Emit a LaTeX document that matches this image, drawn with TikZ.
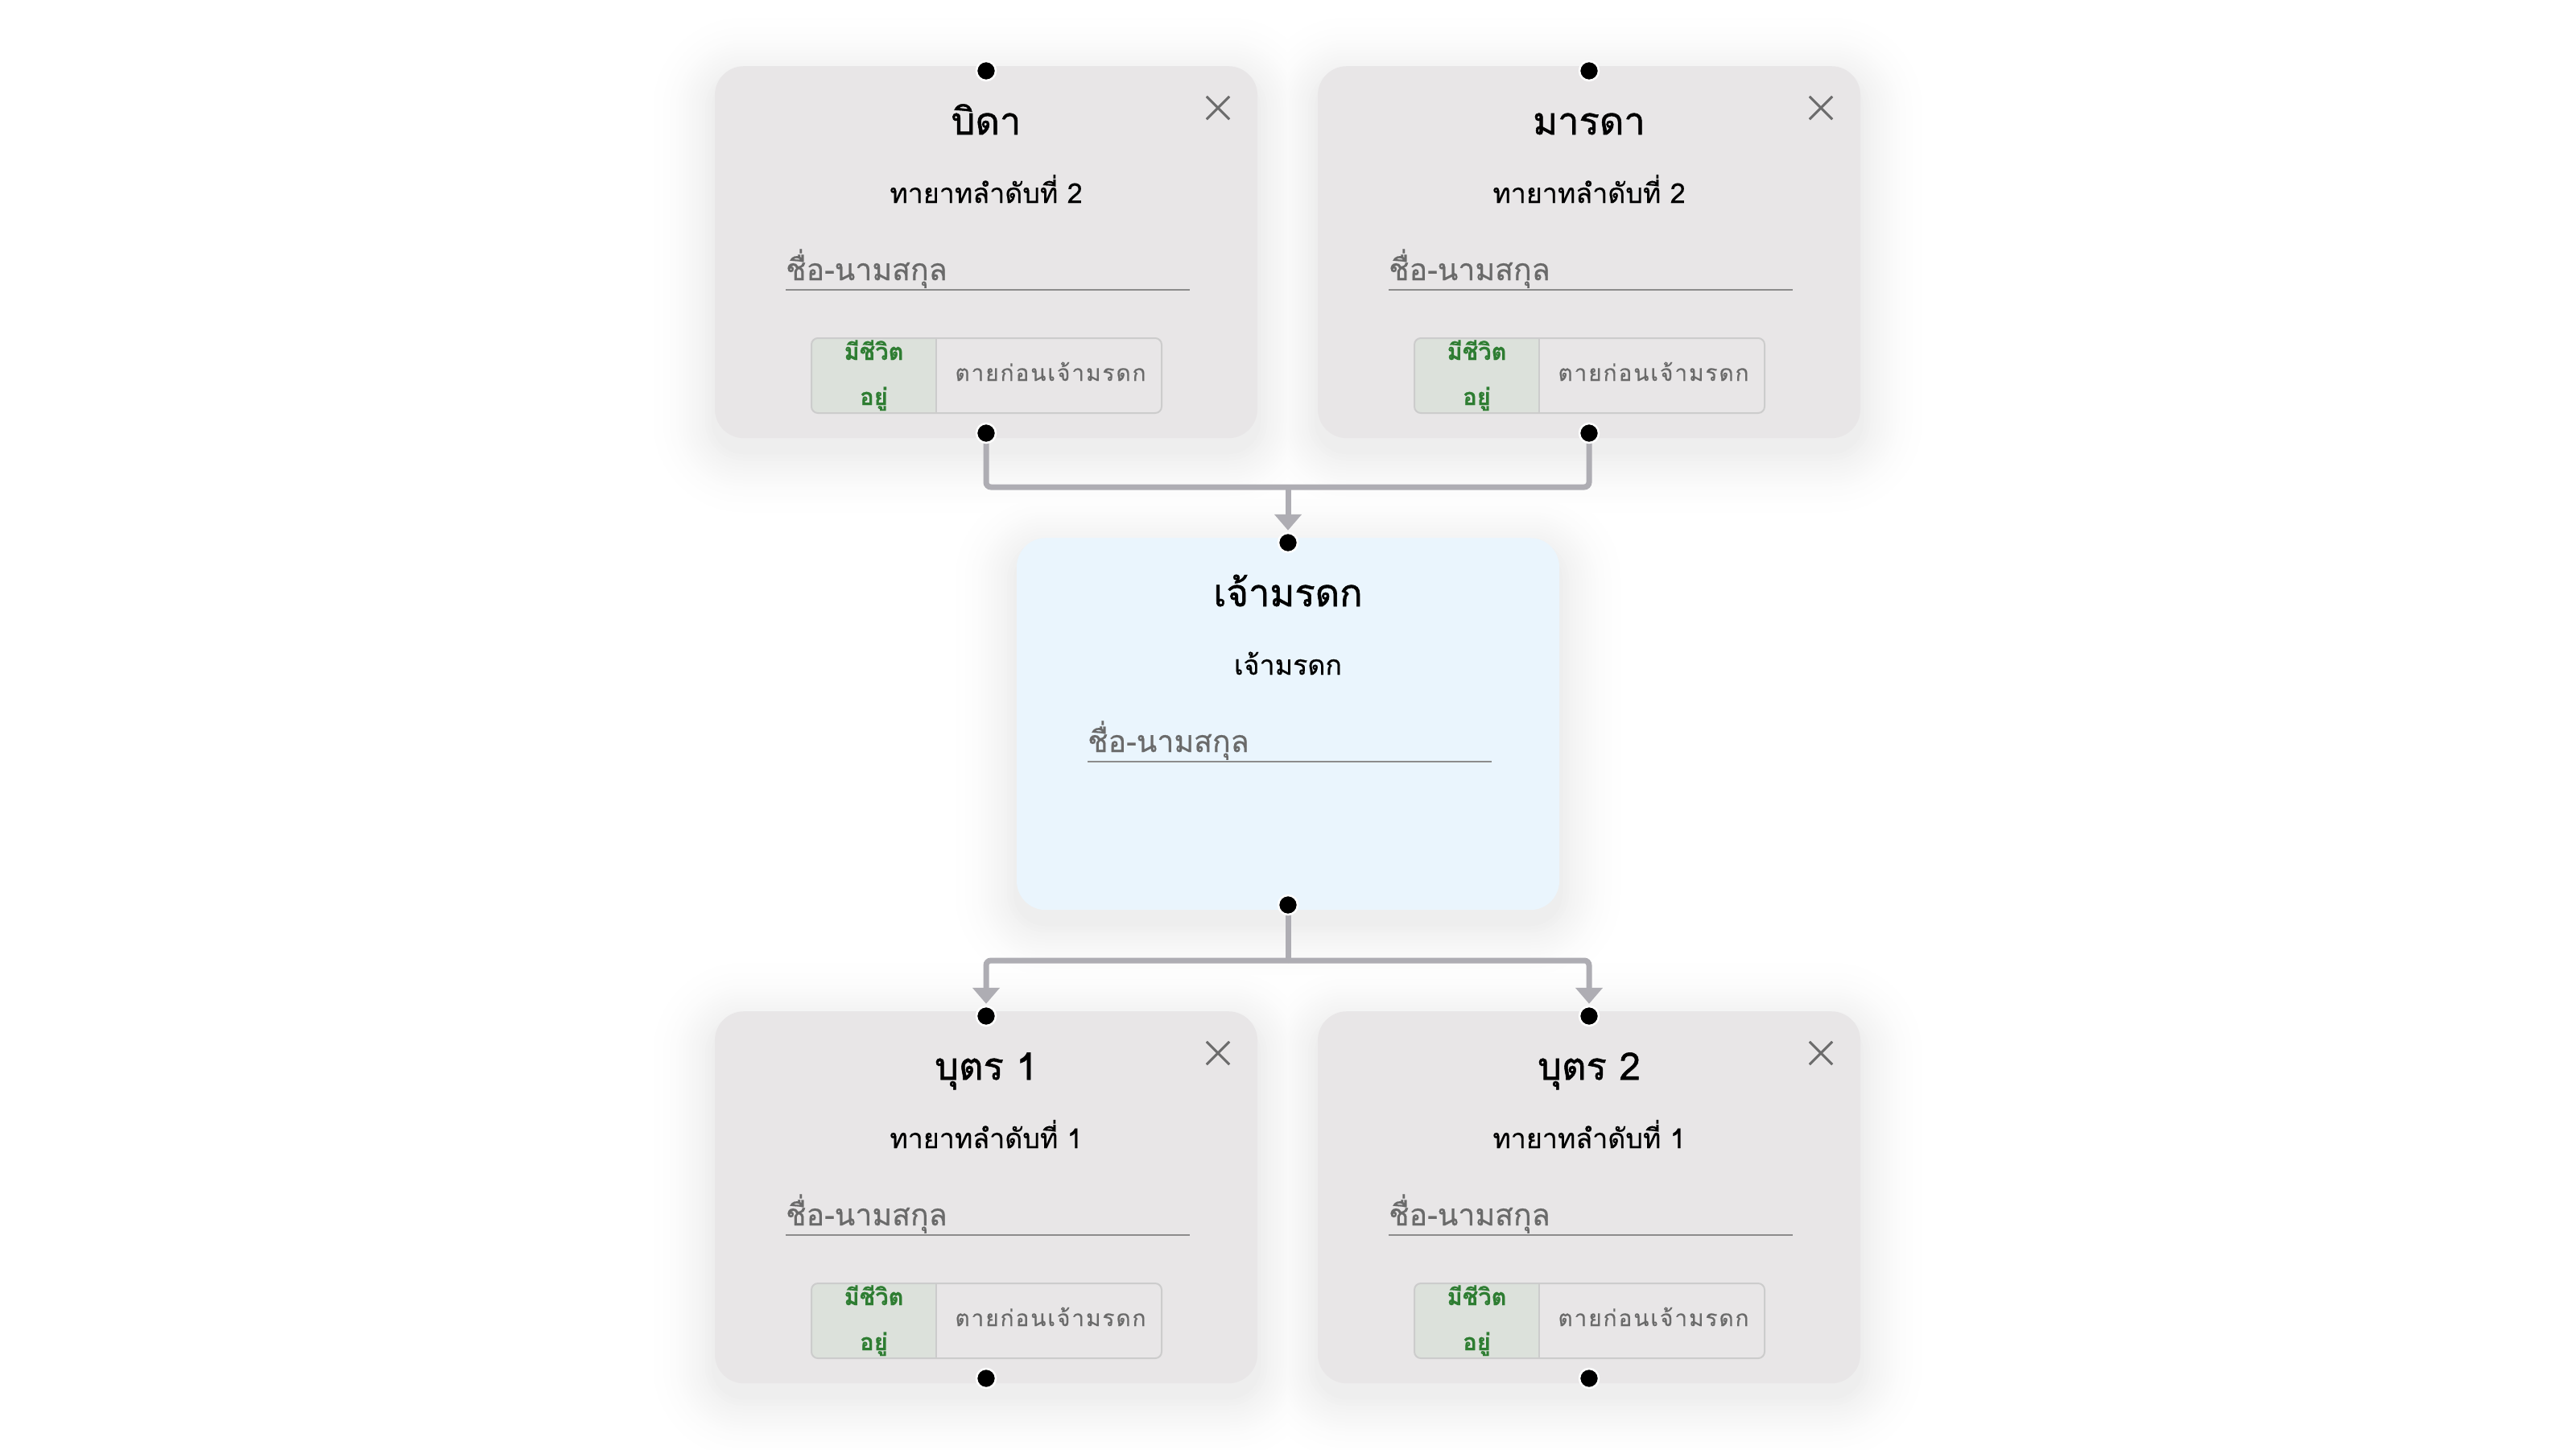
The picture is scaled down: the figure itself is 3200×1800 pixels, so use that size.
\documentclass[tikz,border=0pt]{standalone}
\usepackage{fontspec}
\setmainfont{Liberation Sans}
\newfontfamily\thai[Script=Thai,FakeBold=0.4]{Loma}
\newfontfamily\thaititle[Script=Thai,FakeBold=1.2]{Loma}
\newfontfamily\thaisp[Script=Thai,LetterSpace=7,FakeBold=0.3]{Loma}
\usetikzlibrary{arrows.meta}
\pgfdeclarelayer{shadowlayer}
\pgfdeclarelayer{bglayer}
\pgfsetlayers{shadowlayer,bglayer,main}
\definecolor{cardgray}{HTML}{E8E6E7}
\definecolor{cardblue}{HTML}{EAF5FD}
\definecolor{conn}{HTML}{AEADB3}
\definecolor{greentxt}{HTML}{2E7D32}
\definecolor{togglegreen}{HTML}{DCE1DB}
\definecolor{toggleborder}{HTML}{CCCCCC}
\definecolor{phgray}{HTML}{6A6A6A}
\definecolor{linegray}{HTML}{8C8C8C}
\definecolor{xgray}{HTML}{6B6B6B}
\tikzset{
  cardbox/.style={inner sep=0pt, rounded corners=36pt, minimum width=674pt, minimum height=462pt, anchor=north},
  dotnode/.style={circle, fill=black, draw=white, line width=2.5pt, minimum size=24pt, inner sep=0pt},
  titletext/.style={anchor=base, inner sep=0pt, font=\thaititle\fontsize{47}{50}\selectfont},
  subtext/.style={anchor=base, inner sep=0pt, font=\thai\fontsize{34}{36}\selectfont},
  phtext/.style={anchor=base west, inner sep=0pt, text=phgray, font=\thai\fontsize{37.5}{40}\selectfont},
  underline/.style={draw=linegray, line width=2.5pt},
  greenlbl/.style={anchor=base, inner sep=0pt, text=greentxt, font=\thai\bfseries\fontsize{29}{30}\selectfont},
  graylbl/.style={anchor=base, inner sep=0pt, text=phgray, font=\thaisp\fontsize{28}{30}\selectfont},
  xbox/.style={inner sep=0pt, minimum size=28pt},
  xline/.style={draw=xgray, line width=3pt},
  connline/.style={draw=conn, line width=7pt, rounded corners=6pt},
  arrowline/.style={connline, -{Triangle[width=33pt,length=20pt]}, shorten >=2pt},
}
% #1 name, #2 cx, #3 top, #4 fill, #5 title, #6 subtitle
\newcommand{\mkcard}[6]{%
  \node[cardbox, fill=#4] (#1) at (#2,#3) {};
  \node[titletext] (#1-title) at (#2,{#3+85}) {#5};
  \node[subtext] (#1-sub) at (#2,{#3+170}) {#6};
  \node[phtext] (#1-ph) at ({#2-249},{#3+266}) {ชื่อ-นามสกุล};
  \coordinate (#1-ulA) at ({#2-249},{#3+278});
  \coordinate (#1-ulB) at ({#2+253},{#3+278});
  \draw[underline] (#1-ulA) -- (#1-ulB);
  \node[dotnode] (#1-top) at (#2,{#3+6}) {};
  \node[dotnode] (#1-bot) at (#2,{#3+462-6}) {};
}
% #1 name, #2 cx, #3 top
\newcommand{\mkextras}[3]{%
  \node[xbox] (#1-x) at ({#2+288},{#3+52}) {};
  \draw[xline] (#1-x.north west) -- (#1-x.south east) (#1-x.north east) -- (#1-x.south west);
  \fill[cardgray, rounded corners=8pt] ({#2-217},{#3+338}) rectangle ({#2+218},{#3+431});
  \fill[togglegreen, rounded corners=8pt] ({#2-217},{#3+338}) rectangle ({#2-62},{#3+431});
  \fill[togglegreen] ({#2-75},{#3+338}) rectangle ({#2-62},{#3+431});
  \node[draw=toggleborder, line width=2pt, rounded corners=8pt, inner sep=0pt, minimum width=435pt, minimum height=93pt] (#1-tg) at ({#2+0.5},{#3+384.5}) {};
  \draw[toggleborder, line width=2pt] ({#2-62},{#3+338}) -- ({#2-62},{#3+431});
  \node[greenlbl] (#1-alive1) at ({#2-139.5},{#3+365}) {มีชีวิต};
  \node[greenlbl] (#1-alive2) at ({#2-139.5},{#3+421}) {อยู่};
  \node[graylbl] (#1-dead) at ({#2+80},{#3+391}) {ตายก่อนเจ้ามรดก};
}
\begin{document}
\begin{tikzpicture}[x=1pt,y=-1pt]
\useasboundingbox (0,0) rectangle (3200,1800);
\begin{pgfonlayer}{shadowlayer}
  \fill[white] (0,0) rectangle (3200,1800);
  \foreach \i in {22,...,1}{
    \pgfmathsetmacro\shp{6.5*((23-\i)/22)^2}
    \foreach \cx/\cy in {1225/82,1974/82,1600/668,1225/1256,1974/1256}{
      \fill[black!\shp, rounded corners={36+4*\i}] ({\cx-337-4*\i},{\cy-4*\i+16}) rectangle ({\cx+337+4*\i},{\cy+462+4*\i+16});
    }
  }
\end{pgfonlayer}
\mkcard{father}{1225}{82}{cardgray}{บิดา}{ทายาทลำดับที่ 2}
\mkextras{father}{1225}{82}
\mkcard{mother}{1974}{82}{cardgray}{มารดา}{ทายาทลำดับที่ 2}
\mkextras{mother}{1974}{82}
\mkcard{dec}{1600}{668}{cardblue}{เจ้ามรดก}{เจ้ามรดก}
\mkcard{childa}{1225}{1256}{cardgray}{บุตร 1}{ทายาทลำดับที่ 1}
\mkextras{childa}{1225}{1256}
\mkcard{childb}{1974}{1256}{cardgray}{บุตร 2}{ทายาทลำดับที่ 1}
\mkextras{childb}{1974}{1256}
\coordinate (jtop) at (1600,605);
\coordinate (jbot) at (1600,1193);
\begin{pgfonlayer}{bglayer}
  \draw[connline] (father-bot.center) -- (father-bot.center |- jtop) -- (mother-bot.center |- jtop) -- (mother-bot.center);
  \draw[arrowline] (jtop) -- (dec-top);
  \draw[connline] (dec-bot.center) -- (jbot);
  \draw[arrowline] (jbot) -| (childa-top);
  \draw[arrowline] (jbot) -| (childb-top);
\end{pgfonlayer}
\end{tikzpicture}
\end{document}
